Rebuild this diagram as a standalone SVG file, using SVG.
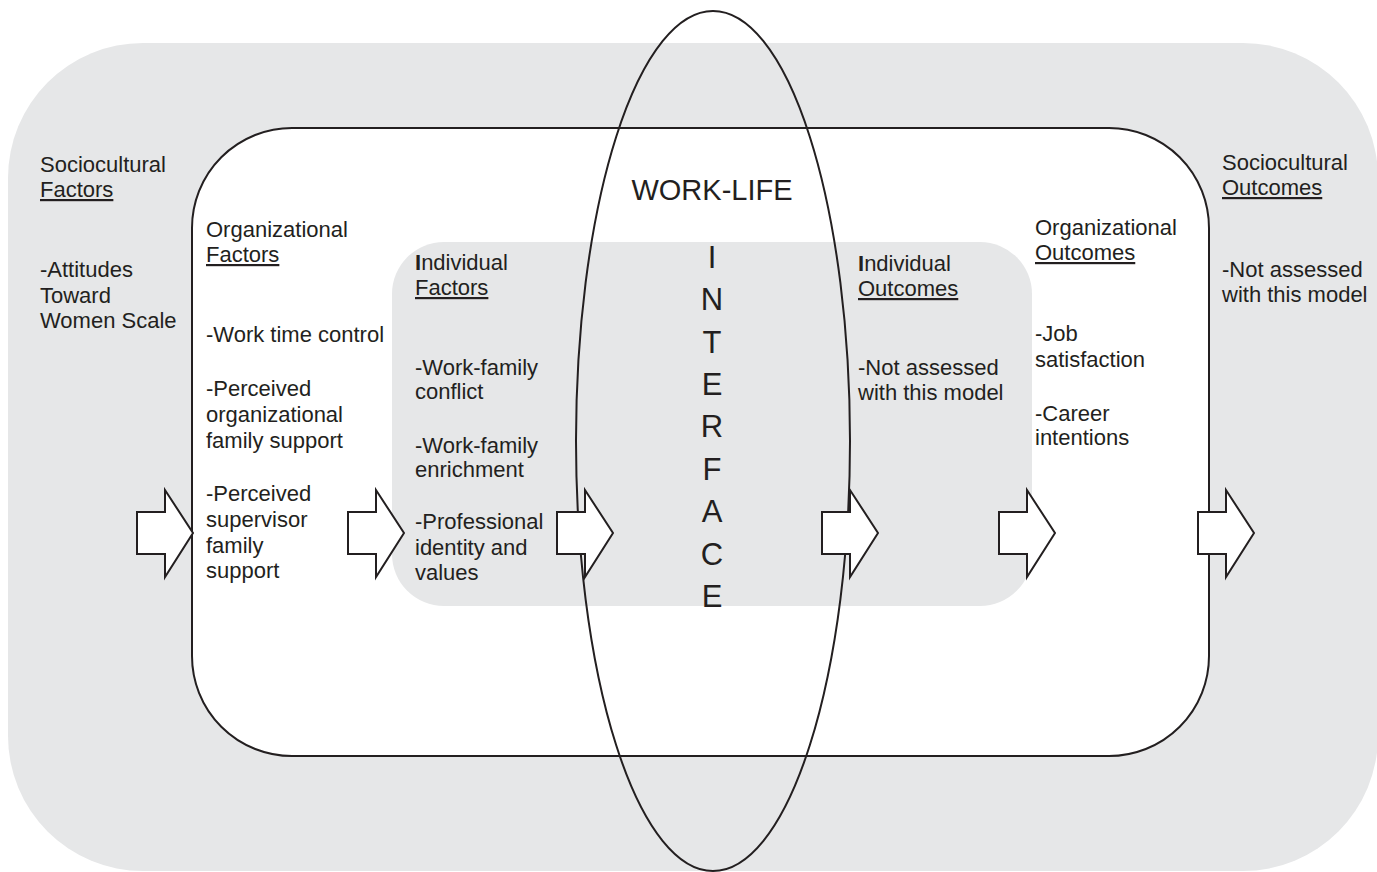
<svg xmlns="http://www.w3.org/2000/svg" width="1377" height="872" viewBox="0 0 1377 872">
  <style>
    .lbl { font-family: "Liberation Sans", Arial, sans-serif; font-size: 22px; fill: #231f20; }
    .u { text-decoration: underline; }
    .b { font-weight: bold; }
    .big { font-family: "Liberation Sans", Arial, sans-serif; font-size: 29px; fill: #231f20; text-anchor: middle; }
    .letter { font-family: "Liberation Sans", Arial, sans-serif; font-size: 31px; fill: #231f20; text-anchor: middle; }
    .arrow { fill: #ffffff; stroke: #231f20; stroke-width: 2; stroke-linejoin: miter; }
    .zone { fill: #e6e7e8; }
  </style>
  <defs>
    <!-- block arrow, shaft starting at x=0 -->
    <polygon id="blockArrow" class="arrow" points="0,512 28,512 28,490 56,533 28,577 28,554 0,554"/>
  </defs>

  <!-- sociocultural layer -->
  <g id="sociocultural">
    <rect class="zone" x="8" y="43" width="1370" height="828" rx="135" ry="135"/>
  </g>

  <!-- organizational layer -->
  <g id="organizational">
    <rect x="192" y="128" width="1017" height="628" rx="100" ry="100" fill="#ffffff" stroke="#231f20" stroke-width="2"/>
  </g>

  <!-- individual layer -->
  <g id="individual">
    <rect class="zone" x="392" y="242" width="640" height="364" rx="52" ry="52"/>
  </g>

  <!-- work-life interface ellipse -->
  <g id="interface">
    <ellipse cx="713" cy="441" rx="137" ry="430" fill="none" stroke="#231f20" stroke-width="2"/>
    <text class="big" x="712" y="200">WORK-LIFE</text>
    <text class="letter" x="712" y="268">I</text>
    <text class="letter" x="712" y="310">N</text>
    <text class="letter" x="712" y="353">T</text>
    <text class="letter" x="712" y="395">E</text>
    <text class="letter" x="712" y="437">R</text>
    <text class="letter" x="712" y="480">F</text>
    <text class="letter" x="712" y="522">A</text>
    <text class="letter" x="712" y="565">C</text>
    <text class="letter" x="712" y="607">E</text>
  </g>

  <!-- flow arrows -->
  <g id="connectors">
    <use href="#blockArrow" x="137"/>
    <use href="#blockArrow" x="348"/>
    <use href="#blockArrow" x="557"/>
    <use href="#blockArrow" x="822"/>
    <use href="#blockArrow" x="999"/>
    <use href="#blockArrow" x="1198"/>
  </g>

  <g id="sociocultural-factors" class="lbl">
    <text x="40" y="172">Sociocultural</text>
    <text x="40" y="197" class="u">Factors</text>
    <text x="40" y="277">-Attitudes</text>
    <text x="40" y="303">Toward</text>
    <text x="40" y="328">Women Scale</text>
  </g>

  <g id="organizational-factors" class="lbl">
    <text x="206" y="237">Organizational</text>
    <text x="206" y="262" class="u">Factors</text>
    <text x="206" y="342">-Work time control</text>
    <text x="206" y="396">-Perceived</text>
    <text x="206" y="422">organizational</text>
    <text x="206" y="448">family support</text>
    <text x="206" y="501">-Perceived</text>
    <text x="206" y="527">supervisor</text>
    <text x="206" y="553">family</text>
    <text x="206" y="578">support</text>
  </g>

  <g id="individual-factors" class="lbl">
    <text x="415" y="270"><tspan class="b">I</tspan>ndividual</text>
    <text x="415" y="295" class="u">Factors</text>
    <text x="415" y="375">-Work-family</text>
    <text x="415" y="399">conflict</text>
    <text x="415" y="453">-Work-family</text>
    <text x="415" y="477">enrichment</text>
    <text x="415" y="529">-Professional</text>
    <text x="415" y="555">identity and</text>
    <text x="415" y="580">values</text>
  </g>

  <g id="individual-outcomes" class="lbl">
    <text x="858" y="271"><tspan class="b">I</tspan>ndividual</text>
    <text x="858" y="296" class="u">Outcomes</text>
    <text x="858" y="375">-Not assessed</text>
    <text x="858" y="400">with this model</text>
  </g>

  <g id="organizational-outcomes" class="lbl">
    <text x="1035" y="235">Organizational</text>
    <text x="1035" y="260" class="u">Outcomes</text>
    <text x="1035" y="341">-Job</text>
    <text x="1035" y="367">satisfaction</text>
    <text x="1035" y="421">-Career</text>
    <text x="1035" y="445">intentions</text>
  </g>

  <g id="sociocultural-outcomes" class="lbl">
    <text x="1222" y="170">Sociocultural</text>
    <text x="1222" y="195" class="u">Outcomes</text>
    <text x="1222" y="277">-Not assessed</text>
    <text x="1222" y="302">with this model</text>
  </g>
</svg>
